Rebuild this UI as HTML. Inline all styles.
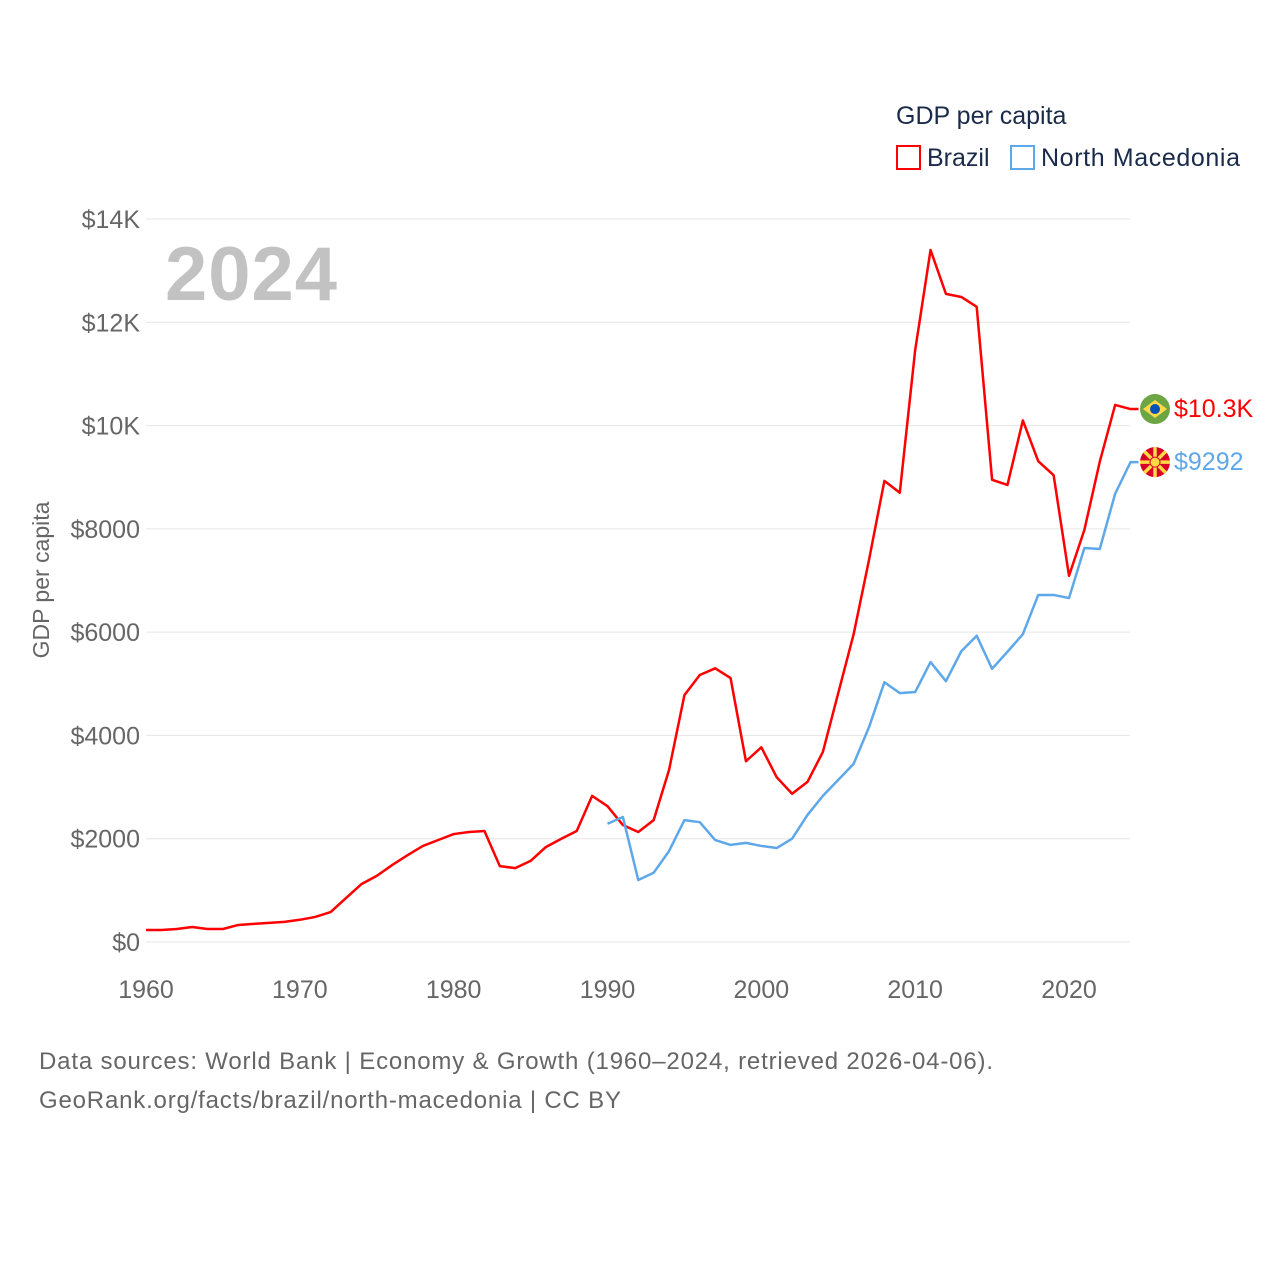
<!DOCTYPE html>
<html><head><meta charset="utf-8"><style>
body{margin:0;background:#fff;font-family:"Liberation Sans",sans-serif}
svg text{font-family:"Liberation Sans",sans-serif}
</style></head><body>
<svg id="chart" width="1280" height="1280" xmlns="http://www.w3.org/2000/svg">
<text x="896" y="124" font-size="25" fill="#1a2a4a">GDP per capita</text>
<g><rect x="897" y="146" width="23" height="23" fill="none" stroke="#f00" stroke-width="2"/><text x="927" y="166" font-size="25" fill="#1a2a4a">Brazil</text></g>
<g><rect x="1011" y="146" width="23" height="23" fill="none" stroke="#5ea8ea" stroke-width="2"/><text x="1041" y="166" font-size="25" fill="#1a2a4a" textLength="199">North Macedonia</text></g>
<text x="165" y="300" font-size="76" font-weight="bold" fill="#c2c2c2" textLength="172">2024</text>
<text transform="translate(49,580) rotate(-90)" text-anchor="middle" font-size="23" fill="#666">GDP per capita</text>
<g id="grid"></g><g id="series"></g>
<text x="39" y="1069" font-size="24" fill="#666" textLength="954">Data sources: World Bank | Economy &amp; Growth (1960–2024, retrieved 2026-04-06).</text>
<text x="39" y="1108" font-size="24" fill="#666" textLength="582">GeoRank.org/facts/brazil/north-macedonia | CC BY</text>
</svg>
<script>
const brazilStart=1960;
const brazil=[232,232,252,290,252,252,330,350,370,390,430,485,580,850,1120,1280,1490,1680,1860,1975,2090,2130,2150,1470,1430,1570,1840,2000,2150,2830,2630,2265,2130,2360,3330,4780,5170,5300,5110,3500,3770,3190,2870,3100,3680,4820,5960,7400,8930,8700,11460,13400,12550,12490,12300,8950,8850,10100,9310,9040,7090,7980,9300,10400,10320];
const macStart=1990;
const macedonia=[2290,2420,1200,1340,1760,2360,2320,1975,1880,1920,1860,1820,2000,2460,2830,3140,3450,4160,5030,4820,4840,5420,5050,5630,5930,5290,5620,5960,6720,6720,6660,7630,7610,8680,9292];
const yTicks=[0,2000,4000,6000,8000,10000,12000,14000];
const yTickLabels=["$0","$2000","$4000","$6000","$8000","$10K","$12K","$14K"];
const xTicks=[1960,1970,1980,1990,2000,2010,2020];
const endLabels=["$10.3K","$9292"];
const NS="http://www.w3.org/2000/svg";
const x=yr=>146+(yr-1960)*(923/60);
const y=v=>942-v*(723/14000);
function mk(t,a,p){const e=document.createElementNS(NS,t);for(const k in a)e.setAttribute(k,a[k]);p.appendChild(e);return e;}
const grid=document.getElementById('grid'),ser=document.getElementById('series');
yTicks.forEach((v,i)=>{
 const l=mk('line',{x1:146,x2:1130,y1:y(v),y2:y(v),stroke:'#e6e6e6','stroke-width':1},grid);
 
 
 const t=mk('text',{x:140,y:y(v)+9,'text-anchor':'end','font-size':25,fill:'#666'},grid);
 t.textContent=yTickLabels[i];
 
 
});
xTicks.forEach(yr=>{
 const t=mk('text',{x:x(yr),y:998,'text-anchor':'middle','font-size':25,fill:'#666'},grid);
 t.textContent=yr;
 
 
});
function line(data,start,color,name){
 const pts=data.map((v,i)=>x(start+i)+','+y(v));
 const last=data[data.length-1];
 pts.push((x(start+data.length-1)+8)+','+y(last));
 const p=mk('polyline',{points:pts.join(' '),fill:'none',stroke:color,'stroke-width':2.5,'stroke-linejoin':'round'},ser);
 
 
}
line(brazil,brazilStart,'#f00','brazil-line');
line(macedonia,macStart,'#5ea8ea','north-macedonia-line');
const by=y(brazil[brazil.length-1]), my=y(macedonia[macedonia.length-1]);
const bf=mk('g',{},ser);


mk('circle',{cx:1155,cy:by,r:15,fill:'#6da544'},bf);
mk('polygon',{points:`1143,${by} 1155,${by-9} 1167,${by} 1155,${by+9}`,fill:'#ffda44'},bf);
mk('circle',{cx:1155,cy:by,r:5,fill:'#0052b4'},bf);
const bl=mk('text',{x:1174,y:by+8,'font-size':25,fill:'#f00'},ser);bl.textContent=endLabels[0];


const mf=mk('g',{},ser);


mk('circle',{cx:1155,cy:my,r:15,fill:'#d80027'},mf);
for(let k=0;k<8;k++){const a=k*Math.PI/4;mk('line',{x1:1155,y1:my,x2:1155+15*Math.cos(a),y2:my+15*Math.sin(a),stroke:'#ffda44','stroke-width':3.5},mf);}
mk('circle',{cx:1155,cy:my,r:5,fill:'#ffda44',stroke:'#d80027','stroke-width':1},mf);
const ml=mk('text',{x:1174,y:my+8,'font-size':25,fill:'#5ea8ea'},ser);ml.textContent=endLabels[1];


</script>
</body></html>
